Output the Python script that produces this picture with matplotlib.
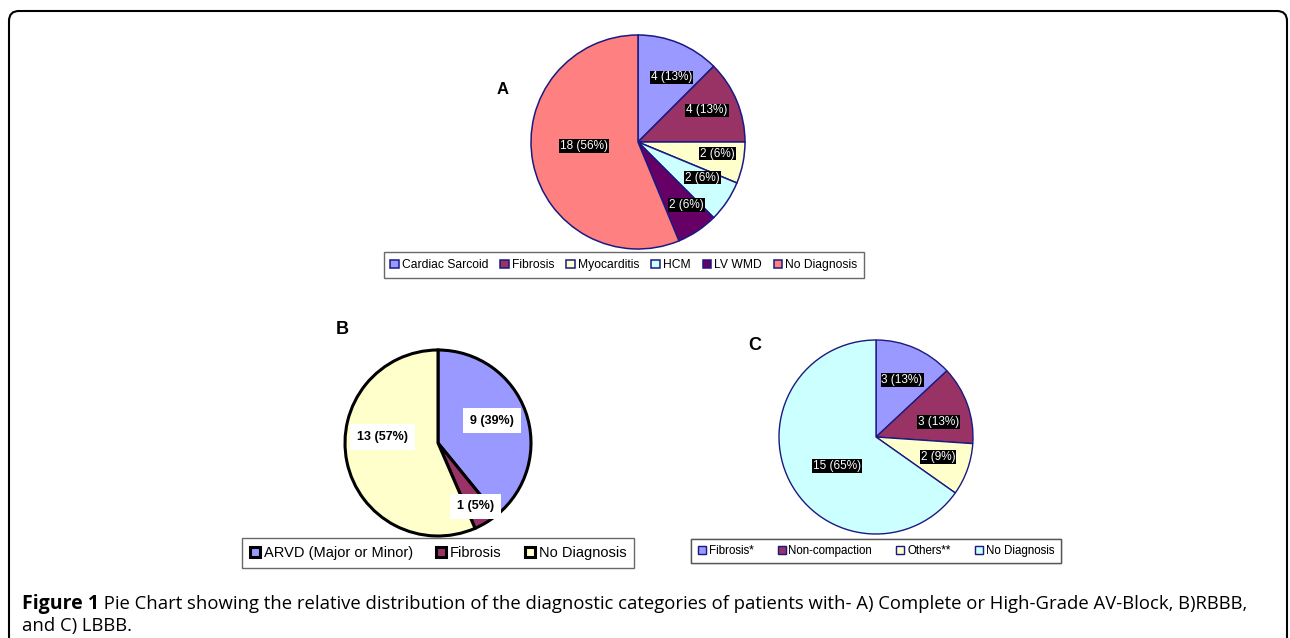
import matplotlib
matplotlib.use("Agg")
import numpy as np
from matplotlib import pyplot as plt
from matplotlib.patches import FancyBboxPatch

plt.rcParams['font.family'] = ['Liberation Sans', 'DejaVu Sans']

W, H = 1290, 638

# A) complete / high-grade AV block
a_labels = ["Cardiac Sarcoid", "Fibrosis", "Myocarditis", "HCM", "LV WMD", "No Diagnosis"]
a_counts = [4, 4, 2, 2, 2, 18]
a_pcts = [13, 13, 6, 6, 6, 56]
a_colors = ["#9999FF", "#993366", "#FFFFCC", "#CCFFFF", "#660066", "#FF8080"]

# B) RBBB
b_labels = ["ARVD (Major or Minor)", "Fibrosis", "No Diagnosis"]
b_counts = [9, 1, 13]
b_pcts = [39, 5, 57]
b_colors = ["#9999FF", "#993366", "#FFFFCC"]

# C) LBBB
c_labels = ["Fibrosis*", "Non-compaction", "Others**", "No Diagnosis"]
c_counts = [3, 3, 2, 15]
c_pcts = [13, 13, 9, 65]
c_colors = ["#9999FF", "#993366", "#FFFFCC", "#CCFFFF"]

caption_bold = "Figure 1"
caption_rest = (" Pie Chart showing the relative distribution of the diagnostic categories "
                "of patients with- A) Complete or High-Grade AV-Block, B)RBBB,")
caption_line2 = "and C) LBBB."


def draw_pie(ax, counts, pcts, colors, cx, cy, r, edge, lw, dists, offs, txt):
    # cx, cy in pixels from top-left
    wedges, _ = ax.pie(counts, colors=colors, startangle=90, counterclock=False,
                       center=(cx, H - cy), radius=r,
                       wedgeprops=dict(edgecolor=edge, linewidth=lw))
    for w, n, p, d, o in zip(wedges, counts, pcts, dists, offs):
        ang = np.deg2rad((w.theta1 + w.theta2) / 2 + o)
        x = w.center[0] + d * w.r * np.cos(ang)
        y = w.center[1] + d * w.r * np.sin(ang)
        ax.text(x, y, "%d (%d%%)" % (n, p), ha='center', va='center', **txt)
    return wedges


def add_legend(ax, wedges, labels, cx, cy, fs, colspace):
    leg = ax.legend(wedges, labels, loc='center', bbox_to_anchor=(cx, H - cy),
                    bbox_transform=ax.transData, ncol=len(labels), fontsize=fs,
                    frameon=True, fancybox=False, edgecolor='#444444',
                    handlelength=0.7, handleheight=0.7, handletextpad=0.25,
                    columnspacing=colspace, borderpad=0.55, borderaxespad=0)
    leg.get_frame().set_linewidth(1.0)
    ax.add_artist(leg)
    return leg


fig = plt.figure(figsize=(W / 100, H / 100), dpi=100)
ax = fig.add_axes([0, 0, 1, 1])

black_box = dict(color='white', fontsize=8.5,
                 bbox=dict(boxstyle='square,pad=0.08', fc='black', ec='none'))
white_box = dict(color='black', fontsize=9, fontweight='bold',
                 bbox=dict(boxstyle='square,pad=0.55', fc='white', ec='none'))

wa = draw_pie(ax, a_counts, a_pcts, a_colors, 638, 142, 107, '#1a1a80', 1.1,
              [0.68, 0.71, 0.75, 0.69, 0.74, 0.51], [-5, 2, 3, 5, 4, -7], black_box)
wb = draw_pie(ax, b_counts, b_pcts, b_colors, 438, 443, 93, 'black', 2.2,
              [0.63, 0.79, 0.6], [3, -1, -18], white_box)
wc = draw_pie(ax, c_counts, c_pcts, c_colors, 876, 437, 97, '#1a1a80', 1.0,
              [0.65, 0.66, 0.67, 0.5], [-1, -6, 2, 9], black_box)

add_legend(ax, wa, a_labels, 624, 265, 8.7, 1.0)
add_legend(ax, wb, b_labels, 438, 553, 10.5, 1.6)
add_legend(ax, wc, c_labels, 876, 551, 8.3, 2.1)

ax.text(503, H - 90, "A", fontsize=12, fontweight='bold', ha='center', va='center')
ax.text(342, H - 330, "B", fontsize=13, fontweight='bold', ha='center', va='center')
ax.text(755, H - 345, "C", fontsize=13, fontweight='bold', ha='center', va='center')

# outer frame, open at the bottom
frame = FancyBboxPatch((9, -30), 1278, H - 11 + 30,
                       boxstyle='round,pad=0,rounding_size=10',
                       ec='black', fc='none', lw=1.5, clip_on=False)
ax.add_patch(frame)

cap = ax.text(22, H - 604, caption_bold, fontsize=14, fontweight='bold',
              family='Open Sans', va='center', ha='left')
ax.annotate(caption_rest, xy=(1, 0.5), xycoords=cap, va='center', ha='left',
            fontsize=13.3, family='Open Sans')
ax.text(22, H - 626, caption_line2, fontsize=13.3, family='Open Sans',
        va='center', ha='left')

ax.set_xlim(0, W)
ax.set_ylim(0, H)
ax.set_aspect('auto')
ax.axis('off')

fig.savefig("out.png", dpi=100)
